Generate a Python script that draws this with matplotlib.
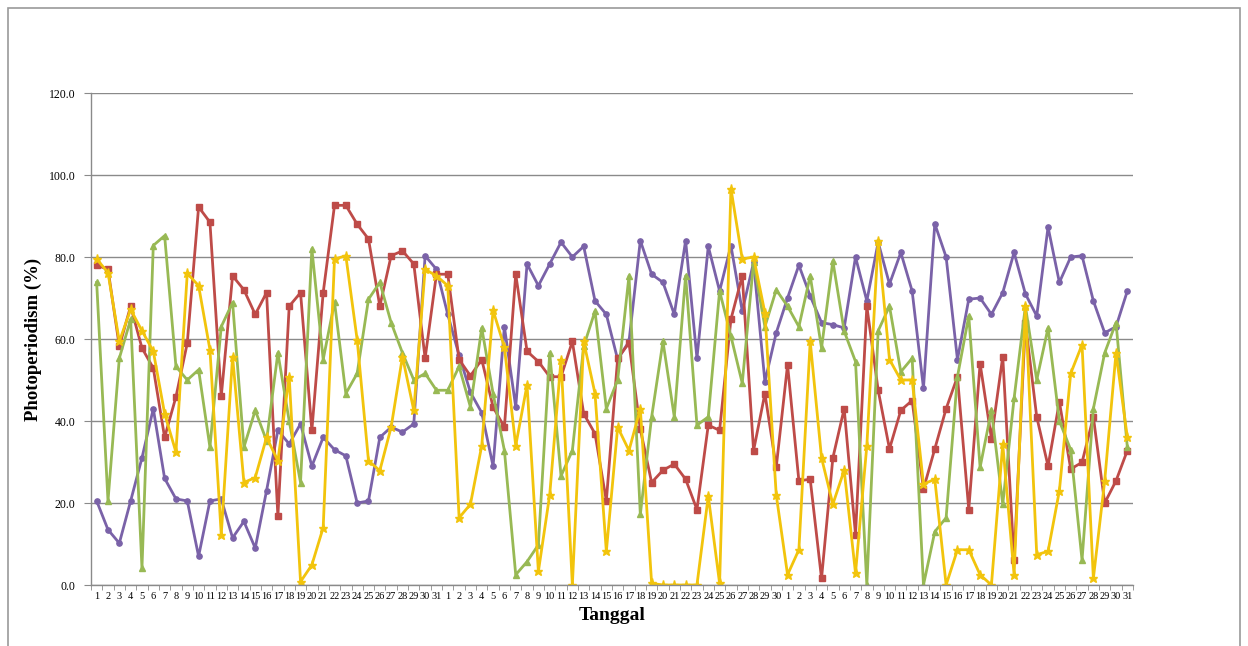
import numpy as np
import matplotlib
matplotlib.use("Agg")
import matplotlib.pyplot as plt
from matplotlib.patches import Rectangle

plt.rcParams['font.family'] = ['Liberation Serif', 'DejaVu Serif']

# day-of-month labels for three consecutive months (31, 30, 31 days)
days = list(range(1, 32)) + list(range(1, 31)) + list(range(1, 32))

# photoperiodism values (%) per series
purple = [20.5, 13.5, 10.2, 20.5, 31, 43, 26, 21, 20.5, 7, 20.5, 21, 11.5, 15.5, 9, 23, 37.7, 34.4, 39.3, 29,
          36, 33, 31.5, 20, 20.5, 36, 38.5, 37.3, 39.3, 80.3, 77,
          66, 56, 47, 42, 29, 63, 43.4, 78.3, 73, 78.3, 83.6, 80, 82.6, 69.3, 66, 55, 59.4, 84, 75.8,
          73.8, 66, 84, 55.3, 82.6, 71.7, 82.8, 66.8, 78.7, 49.6, 61.5,
          70, 78, 70.5, 64, 63.5, 62.7, 80, 69.3, 83.6, 73.4, 81.1, 71.7, 48, 88.1, 80, 55, 69.7, 70, 66,
          71.3, 81.1, 71, 65.6, 87.3, 73.8, 80, 80.3, 69.3, 61.5, 63, 71.7]
red = [78, 77, 58.2, 68, 57.8, 52.9, 36, 45.9, 59, 92.2, 88.5, 46, 75.4, 72, 66, 71.3, 16.8, 68, 71.3, 37.7,
       71.3, 92.6, 92.6, 88, 84.4, 68, 80.3, 81.5, 78.3, 55.3, 75.8,
       75.8, 55, 51, 55, 43.4, 38.5, 75.8, 57, 54.5, 50.8, 50.8, 59.4, 41.8, 36.9, 20.5, 55.3, 59, 38, 25,
       28, 29.5, 25.8, 18.4, 39, 37.7, 64.8, 75.4, 32.8, 46.7, 28.7,
       53.7, 25.4, 25.8, 1.6, 31, 43, 12.3, 68, 47.5, 33.2, 42.6, 45, 23.4, 33.2, 43, 50.8, 18.4, 54, 35.7,
       55.7, 6.1, 63.9, 41, 29, 44.7, 28.3, 29.9, 41, 20, 25.4, 32.8]
green = [73.8, 20.5, 55.3, 64.8, 4.1, 82.8, 85.2, 53.3, 50, 52.5, 33.6, 63, 68.9, 33.6, 42.6, 35.2, 56.6, 40, 25, 82,
         55, 69, 46.7, 51.6, 69.7, 73.8, 64, 56.6, 50, 51.6, 47.5,
         47.5, 53.3, 43.4, 62.7, 46.7, 32.8, 2.5, 5.7, 9.8, 56.6, 26.6, 32.8, 58.2, 66.8, 43, 50, 75.4, 17.2, 41,
         59.4, 41, 75.4, 39, 41, 71.7, 60.7, 49.2, 78.7, 63, 72,
         68, 63, 75.4, 57.8, 79, 61.9, 54.5, 0, 62, 68, 52, 55.3, 0, 13, 16.4, 50.8, 65.6, 28.7, 42.6,
         19.7, 45.5, 68, 50, 62.7, 40, 33, 6.1, 43, 56.6, 64, 33.6]
yellow = [79.5, 76.2, 59.4, 67.2, 62, 57, 41.8, 32.4, 76, 73, 57.4, 12.3, 55.7, 25, 26.2, 36, 30.3, 50.8, 0.8, 4.9,
          14, 79.5, 80.3, 59.8, 30.3, 27.9, 38.5, 55.7, 42.6, 77, 75.4,
          73, 16.4, 19.7, 34, 67, 58, 34, 48.8, 3.3, 22, 55, 0, 59.4, 46.7, 8.2, 38.5, 32.8, 43, 0.4,
          0, 0, 0, 0, 21.7, 0.4, 96.7, 79.5, 80, 66.4, 22,
          2.5, 8.6, 59.4, 31, 19.7, 28, 2.9, 34, 84, 55, 50, 50, 24.6, 25.8, 0, 8.6, 8.6, 2.5, 0,
          34.4, 2.5, 68, 7.4, 8.2, 23, 51.6, 58.6, 1.6, 25.4, 56.6, 36]

x = np.arange(len(days))

fig = plt.figure(figsize=(12.48, 6.46), dpi=100)
ax = fig.add_axes([91 / 1248, 1 - 585 / 646, (1133 - 91) / 1248, (585 - 93) / 646])

# chart border
fig.patches.append(Rectangle((8 / 1248, -0.05), (1240 - 8) / 1248, 1.05 - 8 / 646,
                             transform=fig.transFigure, fill=False, edgecolor='#9a9a9a', linewidth=1.2))

series = [
    (purple, '#7a62a8', 'o', 3.8),
    (red, '#be4b48', 's', 3.8),
    (green, '#98b954', '^', 4.3),
    (yellow, '#f2c40c', '*', 6.5),
]
for vals, col, mk, ms in series:
    ax.plot(x, vals, color=col, linewidth=2.0, marker=mk, markersize=ms,
            markerfacecolor=col, markeredgecolor=col, solid_joinstyle='round')

ax.set_xlim(-0.5, len(days) - 0.5)
ax.set_ylim(0, 120)
ax.set_yticks(np.arange(0, 121, 20))
ax.set_yticklabels([f"{v:.1f}" for v in range(0, 121, 20)], fontsize=8.5)
ax.yaxis.grid(True, color='#8a8a8a', linewidth=1.0)
ax.set_axisbelow(True)

ax.set_xticks(x)
ax.set_xticklabels([str(d) for d in days], fontsize=7.5)
ax.set_xticks(np.arange(-0.5, len(days), 1), minor=True)
ax.tick_params(axis='x', which='major', length=0, pad=5)
ax.tick_params(axis='x', which='minor', length=3.5, color='#8a8a8a', direction='out')
ax.tick_params(axis='y', length=5, color='#8a8a8a', direction='out', pad=6)

for side in ['top', 'right']:
    ax.spines[side].set_visible(False)
for side in ['left', 'bottom']:
    ax.spines[side].set_color('#8a8a8a')
    ax.spines[side].set_linewidth(1.0)

ax.set_ylabel('Photoperiodism (%)', fontsize=13.5, fontweight='bold', labelpad=5)
ax.set_xlabel('Tanggal', fontsize=14, fontweight='bold', labelpad=4)

fig.savefig('out.png', dpi=100)
